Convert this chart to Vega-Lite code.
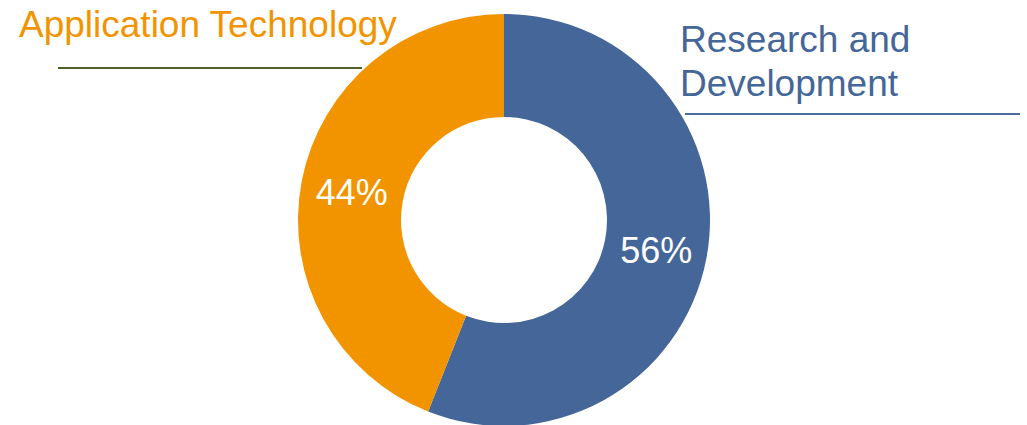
{
  "$schema": "https://vega.github.io/schema/vega-lite/v6.json",
  "width": 1008,
  "height": 412,
  "autosize": {"type": "none"},
  "padding": {"left": 0, "right": 19, "top": 14, "bottom": 0},
  "background": "white",
  "view": {"stroke": null},
  "config": {"font": "Liberation Sans"},
  "layer": [
    {
      "data": {"name": "shares", "values": [
        {"category": "Research and Development", "value": 56, "label": "56%"},
        {"category": "Application Technology", "value": 44, "label": "44%"}
      ]},
      "layer": [
        {
          "mark": {"type": "arc", "innerRadius": 103, "outerRadius": 206},
          "encoding": {
            "theta": {"field": "value", "type": "quantitative", "stack": true},
            "order": {"field": "category", "sort": "descending"},
            "color": {
              "field": "category", "type": "nominal", "legend": null,
              "scale": {"domain": ["Research and Development", "Application Technology"], "range": ["#446699", "#F29400"]}
            }
          }
        },
        {
          "mark": {"type": "text", "radius": 155, "fontSize": 36, "color": "white", "baseline": "middle", "align": "center", "dy": 3},
          "encoding": {
            "theta": {"field": "value", "type": "quantitative", "stack": true},
            "order": {"field": "category", "sort": "descending"},
            "text": {"field": "label"}
          }
        }
      ]
    },
    {
      "data": {"values": [{"name": "Application Technology"}]},
      "layer": [
        {
          "mark": {"type": "text", "align": "left", "baseline": "alphabetic", "fontSize": 37, "color": "#F29400"},
          "encoding": {"x": {"value": 19}, "y": {"value": 23}, "text": {"field": "name"}}
        },
        {
          "mark": {"type": "rule", "strokeWidth": 2, "color": "#4F6228"},
          "encoding": {"x": {"value": 58}, "x2": {"value": 362}, "y": {"value": 54}}
        }
      ]
    },
    {
      "data": {"values": [{"name": "Research and Development"}]},
      "layer": [
        {
          "mark": {"type": "text", "align": "left", "baseline": "alphabetic", "fontSize": 37, "lineHeight": 44, "color": "#446699", "text": ["Research and", "Development"]},
          "encoding": {"x": {"value": 680}, "y": {"value": 38}}
        },
        {
          "mark": {"type": "rule", "strokeWidth": 2, "color": "#4A6DA0"},
          "encoding": {"x": {"value": 685}, "x2": {"value": 1020}, "y": {"value": 100}}
        }
      ]
    }
  ]
}
